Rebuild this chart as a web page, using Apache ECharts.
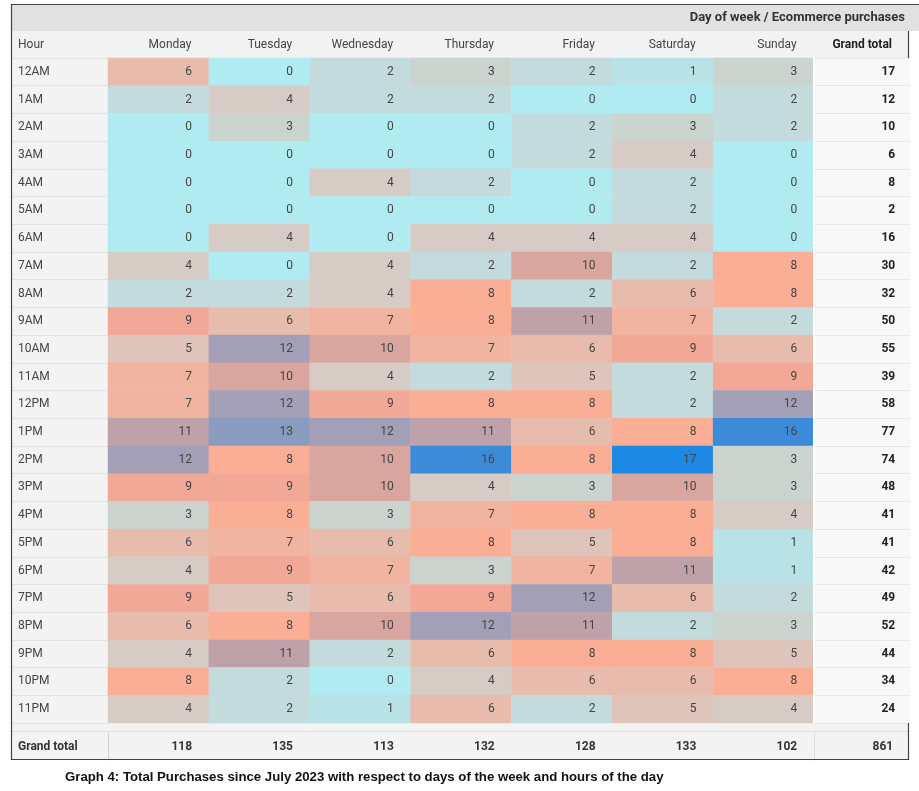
<!DOCTYPE html>
<html><head><meta charset="utf-8">
<script src="https://cdn.jsdelivr.net/npm/echarts@6/dist/echarts.min.js"></script>
<style>html,body{margin:0;padding:0;background:#fff}#c{width:919px;height:791px}</style>
</head><body><div id="c"></div>
<script>
const days = ['Monday','Tuesday','Wednesday','Thursday','Friday','Saturday','Sunday'];
const hours = ['12AM','1AM','2AM','3AM','4AM','5AM','6AM','7AM','8AM','9AM','10AM','11AM',
  '12PM','1PM','2PM','3PM','4PM','5PM','6PM','7PM','8PM','9PM','10PM','11PM'];
const monday    = [6,2,0,0,0,0,0,4,2,9,5,7,7,11,12,9,3,6,4,9,6,4,8,4];
const tuesday   = [0,4,3,0,0,0,4,0,2,6,12,10,12,13,8,9,8,7,9,5,8,11,2,2];
const wednesday = [2,2,0,0,4,0,0,4,4,7,10,4,9,12,10,10,3,6,7,6,10,2,0,1];
const thursday  = [3,2,0,0,2,0,4,2,8,8,7,2,8,11,16,4,7,8,3,9,12,6,4,6];
const friday    = [2,0,2,2,0,0,4,10,2,11,6,5,8,6,8,3,8,5,7,12,11,8,6,2];
const saturday  = [1,0,3,4,2,2,4,2,6,7,9,2,2,8,17,10,8,8,11,6,2,8,6,5];
const sunday    = [3,2,2,0,0,0,0,8,8,2,6,9,12,16,3,3,4,1,1,2,3,5,8,4];
const rowTotals = [17,12,10,6,8,2,16,30,32,50,55,39,58,77,74,48,41,41,42,49,52,44,34,24];
const colTotals = [118,135,113,132,128,133,102];
const grandTotal = 861;
const totalLabel = 'Grand total';
const headerTitle = 'Day of week / Ecommerce purchases';
const caption = 'Graph 4: Total Purchases since July 2023 with respect to days of the week and hours of the day';

const dayCols = [monday,tuesday,wednesday,thursday,friday,saturday,sunday];
const cells = [];
dayCols.forEach((col, x) => col.forEach((v, y) => cells.push([x, y, v])));

const cellColors = ['#b0ebf2','#b9e2e7','#c3dbdc','#cbd3cf','#d6ccc5','#dfc4bb','#e8bcad','#f0b4a0',
  '#f9ae95','#f2a897','#d8a59f','#bea1a9','#a29fb6','#8a9bc0','#6f96c9','#5590d1','#3b8bd9','#1e88e5'];

const FONT = 'Roboto';
const chart = echarts.init(document.getElementById('c'), null, {renderer:'canvas'});
chart.setOption({
  animation: false,
  backgroundColor: '#fff',
  title: [
    {text: headerTitle, right: 14, top: 11, padding: 0,
     textStyle: {fontFamily: FONT, fontSize: 13, fontWeight: 'bold', color: '#333'}},
    {text: caption, left: 65, top: 771, padding: 0,
     textStyle: {fontFamily: 'Liberation Sans', fontSize: 13.2, fontWeight: 'bold', color: '#111'}}
  ],
  graphic: [
    {type:'rect', shape:{x:12, y:5, width:907, height:26}, style:{fill:'#e1e1e1'}, z:-10},
    {type:'rect', shape:{x:12, y:31, width:896, height:27}, style:{fill:'#f2f2f2'}, z:-10},
    {type:'rect', shape:{x:12, y:58, width:96, height:665}, style:{fill:'#f3f3f3'}, z:-10},
    {type:'rect', shape:{x:12, y:723, width:896, height:10}, style:{fill:'#f3f3f3'}, z:-10},
    {type:'rect', shape:{x:12, y:733, width:96, height:27}, style:{fill:'#f3f3f3'}, z:-10},
    {type:'line', shape:{x1:12, y1:731.5, x2:908, y2:731.5}, style:{stroke:'#dedede', lineWidth:1}, z:-5},
    {type:'line', shape:{x1:11, y1:4.5, x2:919, y2:4.5}, style:{stroke:'#444', lineWidth:1.2}, z:50},
    {type:'line', shape:{x1:11.5, y1:4, x2:11.5, y2:760}, style:{stroke:'#444', lineWidth:1.2}, z:50},
    {type:'line', shape:{x1:11, y1:759.5, x2:909, y2:759.5}, style:{stroke:'#444', lineWidth:1.2}, z:50},
    {type:'line', shape:{x1:908.5, y1:31, x2:908.5, y2:58}, style:{stroke:'#444', lineWidth:1.2}, z:50},
    {type:'line', shape:{x1:908.5, y1:723, x2:908.5, y2:760}, style:{stroke:'#444', lineWidth:1.2}, z:50},
    {type:'text', left: 18, top: 39, style:{text:'Hour', fontFamily: FONT, fontSize: 12, fill:'#444'}}
  ],
  grid: [
    {left:108, top:58, width:706, height:665},
    {left:814, top:58, width:96, height:665},
    {left:108, top:733, width:706, height:27},
    {left:814, top:733, width:94, height:27}
  ],
  xAxis: [
    {gridIndex:0, type:'category', data: days, position:'top',
     axisLine:{show:false}, axisTick:{show:false},
     axisLabel:{align:'right', padding:[0,-33,0,0], margin:7, fontFamily:FONT, fontSize:12, color:'#444'}},
    {gridIndex:1, type:'category', data:[totalLabel], position:'top',
     axisLine:{show:false}, axisTick:{show:false},
     axisLabel:{align:'right', padding:[0,-30,0,0], margin:7, fontFamily:FONT, fontSize:12, fontWeight:'bold', color:'#222'}},
    {gridIndex:2, type:'category', data: days, show:false},
    {gridIndex:3, type:'category', data:[totalLabel], show:false}
  ],
  yAxis: [
    {gridIndex:0, type:'category', data: hours, inverse:true,
     axisLine:{show:false},
     axisTick:{show:true, length:96, lineStyle:{color:'#e2e2e2'}},
     axisLabel:{align:'left', margin:90, fontFamily:FONT, fontSize:12, color:'#444'}},
    {gridIndex:1, type:'category', data: hours, inverse:true, z:5,
     axisLine:{show:true, lineStyle:{color:'#ffffff', width:2}}, axisTick:{show:false}, axisLabel:{show:false},
     splitLine:{show:true, lineStyle:{color:'#e6e6e6'}}},
    {gridIndex:2, type:'category', data:[totalLabel], z:5,
     axisLine:{show:true, lineStyle:{color:'#d0d0d0'}}, axisTick:{show:false},
     axisLabel:{align:'left', margin:90, fontFamily:FONT, fontSize:12, fontWeight:'bold', color:'#333'}},
    {gridIndex:3, type:'category', data:[totalLabel], z:5,
     axisLine:{show:true, lineStyle:{color:'#dcdcdc'}}, axisTick:{show:false}, axisLabel:{show:false}}
  ],
  visualMap: {type:'continuous', show:false, min:0, max:17, seriesIndex:0, inRange:{color: cellColors}},
  series: [
    {type:'heatmap', xAxisIndex:0, yAxisIndex:0, data: cells,
     label:{show:true, position:'insideRight', distance:17, fontFamily:FONT, fontSize:12, color:'#444'},
     emphasis:{disabled:true}},
    {type:'heatmap', xAxisIndex:1, yAxisIndex:1, data: rowTotals.map((v,i)=>[0,i,v]),
     itemStyle:{color:'#f8f8f8'},
     label:{show:true, position:'insideRight', distance:15, fontFamily:FONT, fontSize:12, fontWeight:'bold', color:'#222'},
     emphasis:{disabled:true}},
    {type:'heatmap', xAxisIndex:2, yAxisIndex:2, data: colTotals.map((v,i)=>[i,0,v]),
     itemStyle:{color:'#f3f3f3'},
     label:{show:true, position:'insideRight', distance:17, fontFamily:FONT, fontSize:12, fontWeight:'bold', color:'#333'},
     emphasis:{disabled:true}},
    {type:'heatmap', xAxisIndex:3, yAxisIndex:3, data: [[0,0,grandTotal]],
     itemStyle:{color:'#f3f3f3'},
     label:{show:true, position:'insideRight', distance:15, fontFamily:FONT, fontSize:12, fontWeight:'bold', color:'#333'},
     emphasis:{disabled:true}}
  ]
});
</script></body></html>
